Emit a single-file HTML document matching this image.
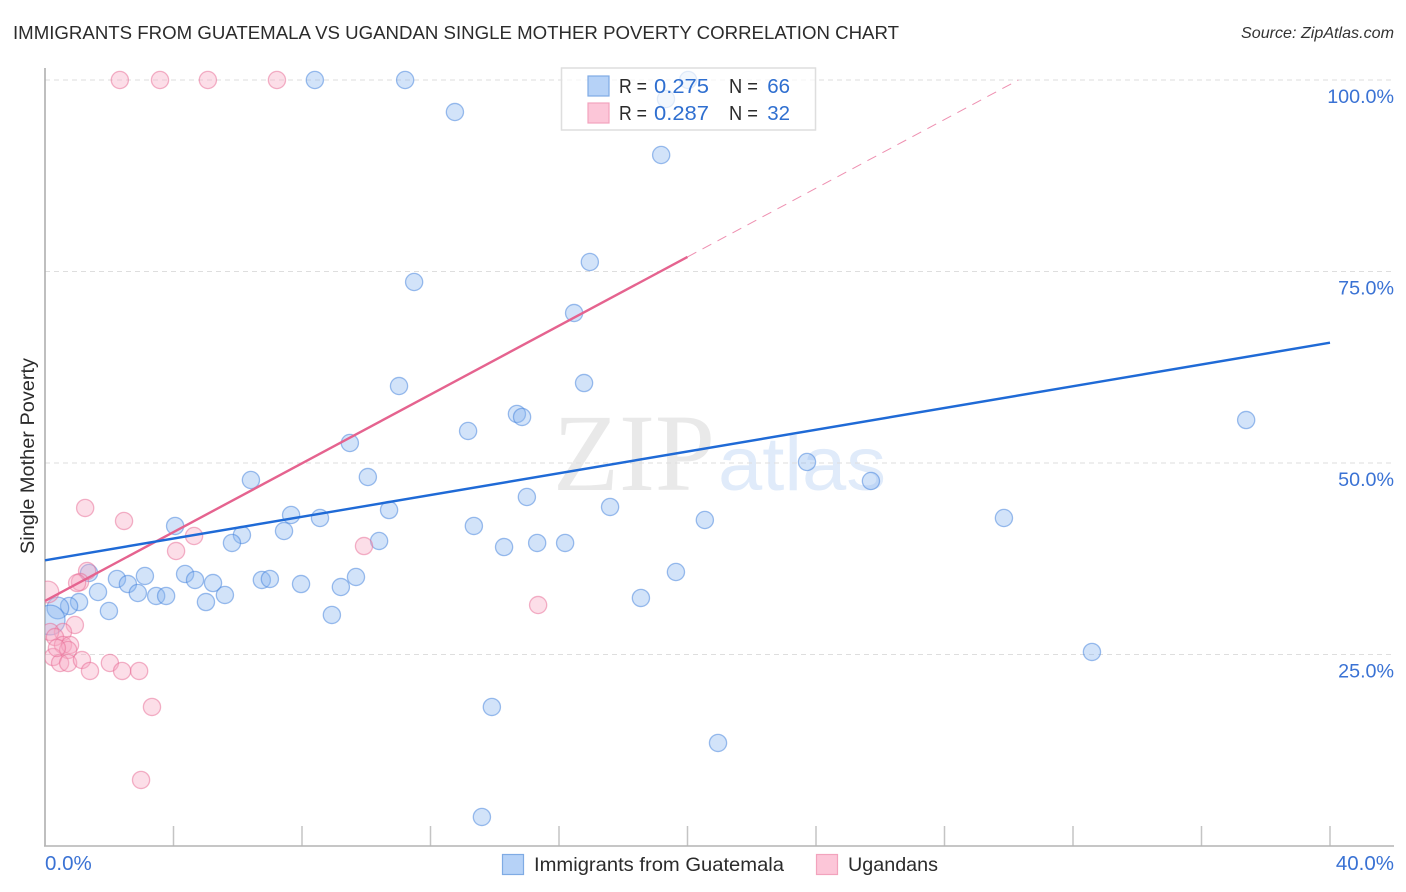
<!DOCTYPE html>
<html lang="en">
<head>
<meta charset="utf-8">
<title>Immigrants from Guatemala vs Ugandan Single Mother Poverty Correlation Chart</title>
<style>
html,body{margin:0;padding:0;background:#fff;width:1406px;height:892px;overflow:hidden}
svg{display:block;font-family:"Liberation Sans",sans-serif}
</style>
</head>
<body>
<svg id="chart" width="1406" height="892" viewBox="0 0 1406 892" xmlns="http://www.w3.org/2000/svg">
  <defs><clipPath id="plot-clip"><rect x="45" y="60" width="1349" height="786"/></clipPath></defs>
  <rect width="1406" height="892" fill="#fff"/>
  <text x="13" y="39" font-size="18.5" fill="#2b2b2b" textLength="886" lengthAdjust="spacingAndGlyphs">IMMIGRANTS FROM GUATEMALA VS UGANDAN SINGLE MOTHER POVERTY CORRELATION CHART</text>
  <text x="1394" y="38" font-size="16" font-style="italic" fill="#333" text-anchor="end" textLength="153" lengthAdjust="spacingAndGlyphs">Source: ZipAtlas.com</text>
  <text x="553" y="490" font-family="'Liberation Serif',serif" font-size="110" fill="#e9e9e9" textLength="162" lengthAdjust="spacingAndGlyphs">ZIP</text>
  <text x="718" y="490" font-family="'Liberation Sans',sans-serif" font-size="76" fill="#e0ebfa" textLength="168" lengthAdjust="spacingAndGlyphs">atlas</text>
  <g id="grid"></g>
  <g id="axes"></g>
  <g id="points" clip-path="url(#plot-clip)"></g>
  <g id="lines"></g>
  <g id="labels"></g>
  <text transform="translate(34 456) rotate(-90)" font-size="19" fill="#2b2b2b" text-anchor="middle" textLength="196" lengthAdjust="spacingAndGlyphs">Single Mother Poverty</text>

  <g>
    <rect x="561.5" y="68" width="254" height="62" fill="#fff" fill-opacity="0.7" stroke="#dedede" stroke-width="1.5"/>
    <rect x="588" y="76" width="21" height="20" fill="#b6d2f7" stroke="#7fabe4" stroke-width="1.2"/>
    <rect x="588" y="103" width="21" height="20" fill="#fcc6d8" stroke="#f2a3bd" stroke-width="1.2"/>
    <g font-size="20.5" fill="#2b2b2b">
      <text x="619" y="93" textLength="28" lengthAdjust="spacingAndGlyphs">R =</text>
      <text x="729" y="93" textLength="29" lengthAdjust="spacingAndGlyphs">N =</text>
      <text x="619" y="120" textLength="28" lengthAdjust="spacingAndGlyphs">R =</text>
      <text x="729" y="120" textLength="29" lengthAdjust="spacingAndGlyphs">N =</text>
    </g>
    <g font-size="20.5" fill="#2f6fd0">
      <text x="654" y="93" textLength="55" lengthAdjust="spacingAndGlyphs">0.275</text>
      <text x="790" y="93" text-anchor="end">66</text>
      <text x="654" y="120" textLength="55" lengthAdjust="spacingAndGlyphs">0.287</text>
      <text x="790" y="120" text-anchor="end">32</text>
    </g>
  </g>

  <g>
    <rect x="502.5" y="854.5" width="21" height="20" fill="#b6d2f7" stroke="#7fabe4" stroke-width="1.2"/>
    <text x="534" y="871" font-size="19.5" fill="#2b2b2b" textLength="250" lengthAdjust="spacingAndGlyphs">Immigrants from Guatemala</text>
    <rect x="816.5" y="854.5" width="21" height="20" fill="#fcc6d8" stroke="#f2a3bd" stroke-width="1.2"/>
    <text x="848" y="871" font-size="19.5" fill="#2b2b2b" textLength="90" lengthAdjust="spacingAndGlyphs">Ugandans</text>
  </g>
</svg>
<script>
const xTickValues = [0,4,8,12,16,20,24,28,32,36,40];
const yTickValues = [25,50,75,100];
const xEdgeLabels = ["0.0%","40.0%"];
const yTickLabels = ["25.0%","50.0%","75.0%","100.0%"];

const guatemalaX = [8.40,11.21,12.76,19.18,16.96,11.49,16.47,16.78,11.02,14.69,14.85,13.17,9.49,37.39,23.72,25.71,6.41,10.05,15.00,10.71,17.59,7.66,8.56,20.54,29.85,4.05,13.35,7.44,6.13,5.82,10.40,14.29,15.32,16.19,19.64,4.36,1.37,2.24,3.11,4.67,2.58,2.89,3.46,3.77,5.23,5.60,5.01,6.75,7.00,7.97,9.21,9.68,8.93,18.55,1.65,1.99,1.06,0.75,0.40,32.59,13.91,20.95,13.60,20.02,19.33,0.16];
const guatemalaY = [100,100,95.82,90.21,76.24,73.63,69.58,60.44,60.05,56.40,56.01,54.18,52.61,55.61,50.13,47.65,47.78,48.17,45.56,43.86,44.26,43.21,42.82,42.56,42.82,41.78,41.78,41.12,40.60,39.56,39.82,39.03,39.56,39.56,35.77,35.51,35.64,34.86,35.25,34.73,34.20,33.03,32.64,32.64,34.33,32.77,31.85,34.73,34.86,34.20,33.81,35.12,30.16,32.38,33.16,30.68,31.85,31.33,31.07,25.33,18.15,13.45,3.79,100,97.52,29.50];
const guatemalaWeight = [1,1,1,1,1,1,1,1,1,1,1,1,1,1,1,1,1,1,1,1,1,1,1,1,1,1,1,1,1,1,1,1,1,1,1,1,1,1,1,1,1,1,1,1,1,1,1,1,1,1,1,1,1,1,1,1,1,1,1.6,1,1,1,1,1,1,3];

const ugandansX = [2.33,3.58,5.07,7.22,1.25,2.46,4.08,4.64,9.93,15.35,1.31,1.09,1.00,0.09,0.93,0.56,0.16,0.31,0.56,0.78,0.72,0.25,0.47,0.72,1.15,1.40,2.02,2.40,2.93,3.33,2.99,0.37];
const ugandansY = [100,100,100,100,44.13,42.43,38.51,40.47,39.16,31.46,35.90,34.46,34.33,33.16,28.85,27.94,27.94,27.28,26.24,26.24,25.59,24.67,23.89,23.89,24.28,22.85,23.89,22.85,22.85,18.15,8.62,25.85];
const ugandansWeight = [1,1,1,1,1,1,1,1,1,1,1,1,1,1.6,1,1,1,1,1,1,1,1,1,1,1,1,1,1,1,1,1,1];

const guatemalaTrendX = [0,40];
const guatemalaTrendY = [37.3,65.7];
const ugandansTrendX = [0,20];
const ugandansTrendY = [32.0,76.9];
const ugandansExtendX = [20,30.3];
const ugandansExtendY = [76.9,100];

const NS = "http://www.w3.org/2000/svg";
const sx = v => 45 + v * 32.125;
const sy = v => 846 - v * 7.66;
const root = id => document.getElementById(id);
function make(tag, attrs, parent){
  const el = document.createElementNS(NS, tag);
  for (const k in attrs) el.setAttribute(k, attrs[k]);
  parent.appendChild(el);
  return el;
}

yTickValues.forEach(v => {
  const el = make('line', {x1:45, x2:1394, y1:sy(v), y2:sy(v), stroke:'#dedede', 'stroke-width':1, 'stroke-dasharray':'5 4'}, root('grid'));
  
  
});

xTickValues.slice(1).forEach(v => {
  const el = make('line', {x1:sx(v), x2:sx(v), y1:826, y2:846, stroke:'#c4c4c4', 'stroke-width':1.5}, root('axes'));
  
  
});
const yAxis = make('line', {x1:45, x2:45, y1:68, y2:846, stroke:'#aaa', 'stroke-width':1.5}, root('axes'));


const xAxis = make('line', {x1:44, x2:1394, y1:846, y2:846, stroke:'#b4b4b4', 'stroke-width':1.5}, root('axes'));



function drawPoints(xs, ys, ws, fill, stroke){
  xs.forEach((v, i) => {
    const el = make('circle', {cx:sx(v), cy:sy(ys[i]), r:8.6 * Math.sqrt(ws[i]), fill:fill, 'fill-opacity':0.38, stroke:stroke, 'stroke-opacity':0.5, 'stroke-width':1.3}, root('points'));
    
    
  });
}
drawPoints(guatemalaX, guatemalaY, guatemalaWeight, '#8ab6f0', '#3f7fdc');
drawPoints(ugandansX, ugandansY, ugandansWeight, '#f8a8c2', '#e86a94');

const extLine = make('line', {x1:sx(ugandansExtendX[0]), y1:sy(ugandansExtendY[0]), x2:sx(ugandansExtendX[1]), y2:sy(ugandansExtendY[1]), stroke:'#ee8fb0', 'stroke-width':1, 'stroke-dasharray':'10 7'}, root('lines'));


const pinkLine = make('line', {x1:sx(ugandansTrendX[0]), y1:sy(ugandansTrendY[0]), x2:sx(ugandansTrendX[1]), y2:sy(ugandansTrendY[1]), stroke:'#e5638f', 'stroke-width':2.4}, root('lines'));


const blueLine = make('line', {x1:sx(guatemalaTrendX[0]), y1:sy(guatemalaTrendY[0]), x2:sx(guatemalaTrendX[1]), y2:sy(guatemalaTrendY[1]), stroke:'#1f6ad6', 'stroke-width':2.4}, root('lines'));



yTickValues.forEach((v, i) => {
  const el = make('text', {x:1394, y:sy(v) + 23, 'text-anchor':'end', 'font-size':19.7, fill:'#3a72d4'}, root('labels'));
  el.textContent = yTickLabels[i];
  
  
});
const xStart = make('text', {x:45, y:870, 'font-size':20.5, fill:'#3a72d4'}, root('labels'));
xStart.textContent = xEdgeLabels[0];


const xEnd = make('text', {x:1394, y:870, 'text-anchor':'end', 'font-size':20.5, fill:'#3a72d4'}, root('labels'));
xEnd.textContent = xEdgeLabels[1];


</script>
</body>
</html>
